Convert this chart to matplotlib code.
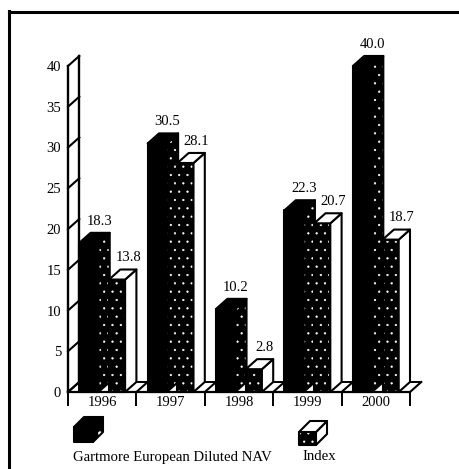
import matplotlib
matplotlib.use("Agg")
import matplotlib.pyplot as plt
from matplotlib.patches import Polygon

plt.rcParams['font.family'] = ['Liberation Serif', 'DejaVu Serif']
plt.rcParams['hatch.linewidth'] = 0.4

years = ['1996', '1997', '1998', '1999', '2000']
nav = [18.3, 30.5, 10.2, 22.3, 40.0]
index = [13.8, 28.1, 2.8, 20.7, 18.7]
yticks = [0, 5, 10, 15, 20, 25, 30, 35, 40]

W, H = 459, 469
DX, DY = 0.165, 1.23  # depth of the 3d look, in data units


def face(ax, pts, color, hatch=None, z=3):
    ax.add_patch(Polygon(pts, closed=True, facecolor=color, edgecolor='white' if hatch else color,
                         hatch=hatch, lw=0, zorder=z, clip_on=False))
    ax.add_patch(Polygon(pts, closed=True, fill=False, edgecolor='black', lw=1.5, zorder=z,
                         joinstyle='round', clip_on=False))


def box(ax, x, w, h, dx, dy, front, side, top, y=0, hf=None, hs=None, ht=None, z=3):
    face(ax, [(x, y), (x + w, y), (x + w, y + h), (x, y + h)], front, hf, z)
    face(ax, [(x + w, y), (x + w + dx, y + dy), (x + w + dx, y + h + dy), (x + w, y + h)], side, hs, z)
    face(ax, [(x, y + h), (x + w, y + h), (x + w + dx, y + h + dy), (x + dx, y + h + dy)], top, ht, z)


fig = plt.figure(figsize=(W / 100, H / 100), dpi=100)
ax = fig.add_axes([68 / W, (H - 392) / H, 342 / W, 326 / H])
ax.set_xlim(0, 5)
ax.set_ylim(0, 40)
ax.patch.set_alpha(0)
for s in ['top', 'right', 'left']:
    ax.spines[s].set_visible(False)
ax.spines['bottom'].set_linewidth(1.6)

ax.set_yticks(yticks)
ax.tick_params(axis='y', length=0, pad=5, labelsize=10.5)
ax.set_xticks(range(6))
ax.set_xticklabels([])
ax.set_xticks([i + 0.5 for i in range(5)], minor=True)
ax.set_xticklabels(years, minor=True, fontsize=10.5)
ax.tick_params(axis='x', which='major', length=10, width=1.4)
ax.tick_params(axis='x', which='minor', length=0, pad=3)

# wall
ax.plot([0, 0], [0, 40], color='black', lw=1.7, clip_on=False, zorder=2)
ax.plot([DX, DX], [DY, 40 + DY], color='black', lw=1.7, clip_on=False, zorder=2)
for t in yticks:
    ax.plot([0, DX], [t, t + DY], color='black', lw=1.5, clip_on=False, zorder=2)

# floor
ax.plot([DX, 5 + DX], [DY, DY], color='black', lw=1.4, clip_on=False, zorder=2)
for i in range(6):
    ax.plot([i, i + DX], [0, DY], color='black', lw=1.5, clip_on=False, zorder=2)

for i in range(5):
    x1 = i + 0.165
    x2 = i + 0.6
    box(ax, x1, 0.28, nav[i], DX, DY, 'black', 'black', 'black', hs='..')
    box(ax, x2, 0.235, index[i], DX, DY, 'black', 'white', 'white', hf='..', ht='..', z=4)
    ax.text(x1 + 0.29, nav[i] + DY + 1.45, '%.1f' % nav[i], ha='center', va='center', fontsize=10.5, zorder=5)
    ax.text(x2 + 0.28, index[i] + DY + 1.45, '%.1f' % index[i], ha='center', va='center', fontsize=10.5, zorder=5)

# page frame and legend, in pixel coordinates
pg = fig.add_axes([0, 0, 1, 1])
pg.set_xlim(0, W)
pg.set_ylim(H, 0)
pg.axis('off')
pg.patch.set_alpha(0)
pg.plot([9, 9], [11, H], color='black', lw=2.2)
pg.plot([9, W], [12, 12], color='black', lw=2.2)

box(pg, 74, 19, -15, 10, -10, 'black', 'black', 'black', y=442, hs='.')
box(pg, 299, 17, -13, 11, -11, 'black', 'white', 'white', y=445, hf='..', ht='...')
pg.text(73, 457, 'Gartmore European Diluted NAV', fontsize=10.6, va='center', ha='left')
pg.text(302, 457, 'Index', fontsize=10.6, va='center', ha='left')

fig.savefig('out.png', dpi=100)
